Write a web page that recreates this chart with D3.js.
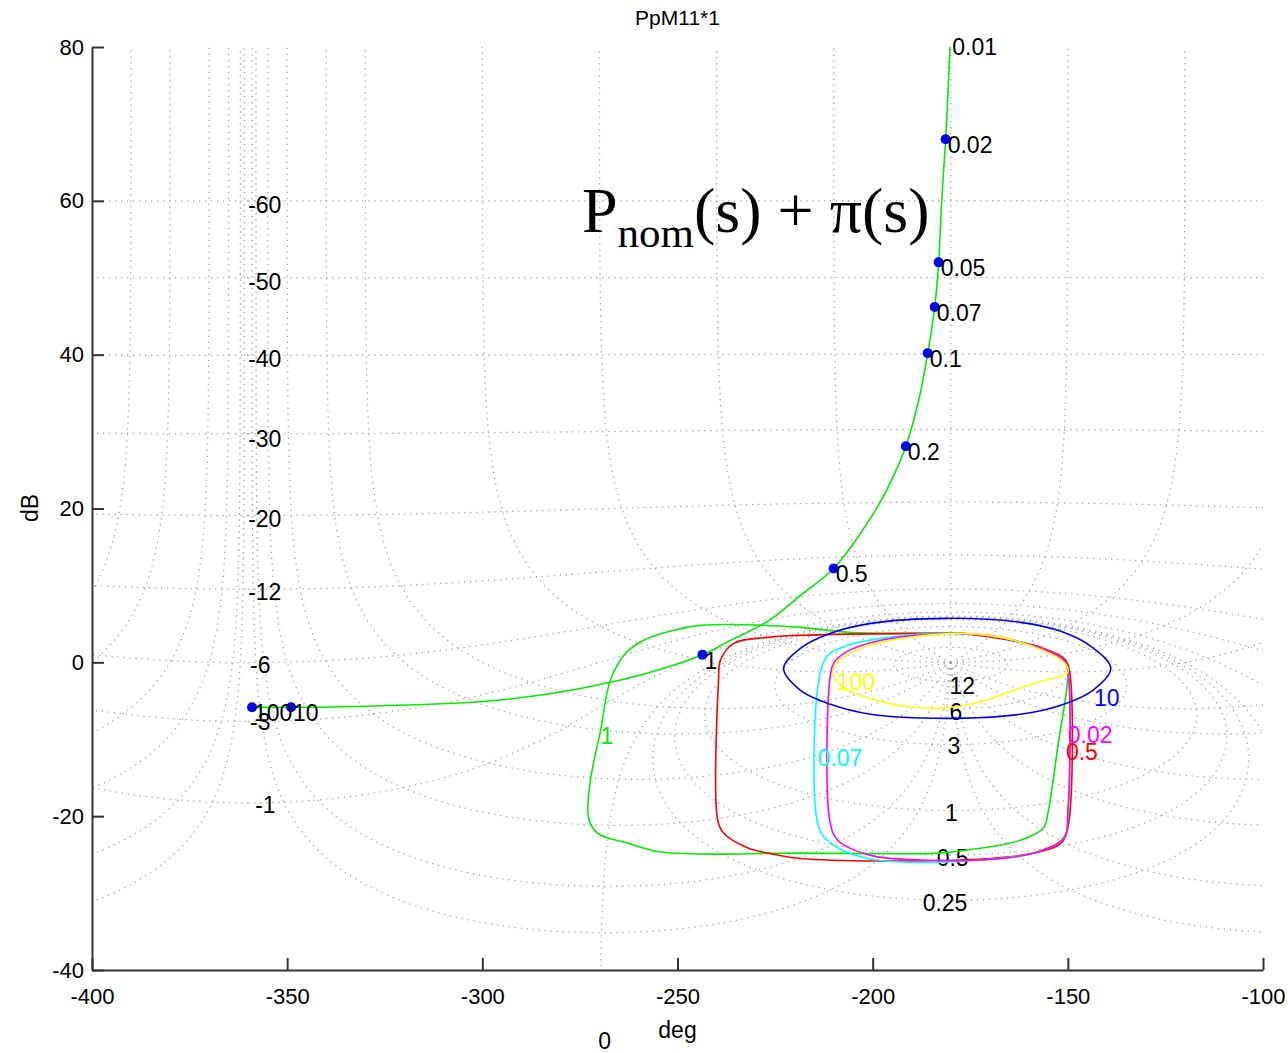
<!DOCTYPE html>
<html>
<head>
<meta charset="utf-8">
<script src="https://cdn.jsdelivr.net/npm/d3@7"></script>
<style>
  html, body { margin: 0; padding: 0; background: #fff; }
  svg { display: block; font-family: "Liberation Sans", Arial, sans-serif; }
</style>
</head>
<body>
<svg id="chart" width="1288" height="1053"></svg>
<script>
// ---- axes ----
const phaseDomain = [-400, -100];
const dbDomain = [-40, 80];
const phaseTicks = [-400, -350, -300, -250, -200, -150, -100];
const dbTicks = [-40, -20, 0, 20, 40, 60, 80];

// ---- Nichols grid contours ----
// closed-loop magnitude contours (dB) and closed-loop phase contours (deg)
const gridMagDb = [-60, -50, -40, -30, -20, -12, -6, -3, -1, 0, 0.25, 0.5, 1, 3, 6, 12];
const gridPhaseDeg = [-150, -120, -90, -60, -30, -20, -10, -5, -2, -1, 1, 2, 5, 10, 20, 30, 60, 90, 120, 150, 180];
// contour labels: text, phase of left edge, dB of vertical centre
const gridLabelText  = ["-60", "-50", "-40", "-30", "-20", "-12", "-6", "-3", "-1", "12", "6", "3", "1", "0.5", "0.25", "0"];
const gridLabelPhase = [-360, -360, -360, -360, -360, -360, -359.5, -359.5, -358.2, -180.3, -180.3, -180.8, -181.5, -183.6, -187.2, -270.3];
const gridLabelDb    = [59.4, 49.5, 39.5, 29.1, 18.6, 9.1, -0.4, -7.8, -18.6, -3.1, -6.5, -10.9, -19.6, -25.4, -31.3, -49.2];

// ---- nominal plant frequency response ----
const nominalPhase = [-180.1, -180.8, -181.3, -182.3, -183.1, -184.1, -185.9, -188.2, -191.5, -194.6, -198.2, -203.1, -210.0, -218.5, -225.4, -228.7, -236.4, -243.6, -267.2, -295.4, -330.5, -349.0, -359.0];
const nominalDb    = [81.0, 73.1, 68.0, 60.1, 52.0, 46.2, 40.2, 34.1, 28.1, 24.3, 20.7, 16.8, 12.2, 8.7, 5.85, 4.8, 2.86, 1.0, -2.6, -4.9, -5.7, -5.85, -5.85];
// marked frequencies (rad/s)
const freqLabels = ["0.01", "0.02", "0.05", "0.07", "0.1", "0.2", "0.5", "1", "10", "100"];
const freqPhase  = [-180.1, -181.3, -183.1, -184.1, -185.9, -191.5, -210.0, -243.6, -349.0, -359.0];
const freqDb     = [80.8, 68.0, 52.0, 46.2, 40.2, 28.1, 12.2, 1.0, -5.85, -5.85];

// ---- uncertainty templates: [phase deg, dB] ----
const templateW1 = [
  [-150.0, -1.04], [-151.0, 0.26], [-156.9, 1.82], [-162.0, 2.6], [-169.7, 3.38], [-177.4, 3.77],
  [-187.7, 3.77], [-206.4, 3.9], [-218.5, 4.55], [-244.1, 4.81], [-251.0, 4.16], [-258.7, 2.86],
  [-263.3, 1.17], [-267.2, -2.34], [-269.7, -8.84], [-272.3, -15.3], [-272.8, -20.2], [-270.5, -22.2],
  [-262.8, -23.5], [-253.6, -24.7], [-218.5, -24.8], [-183.3, -24.8], [-175.6, -24.4], [-162.0, -23.1],
  [-156.2, -21.5], [-155.1, -19.6], [-152.6, -11.05]
];
const templateW05 = [
  [-149.7, -0.78], [-151.0, 0.52], [-156.9, 1.95], [-162.0, 2.6], [-177.4, 3.77], [-187.7, 3.77],
  [-218.5, 3.51], [-226.9, 3.25], [-235.6, 2.47], [-239.0, 0.26], [-239.5, -2.34], [-239.7, -20.5],
  [-238.2, -22.2], [-232.1, -24.1], [-226.9, -24.8], [-218.5, -25.5], [-177.4, -25.7], [-158.7, -24.8],
  [-151.8, -23.5], [-150.0, -21.5]
];
const templateW007 = [
  [-150.0, -1.04], [-151.0, 0.26], [-163.8, 2.86], [-177.4, 3.77], [-197.9, 3.12], [-206.4, 2.21],
  [-211.5, 0.91], [-213.8, -2.34], [-213.8, -21.5], [-210.8, -23.5], [-202.3, -25.4], [-189.5, -26.0],
  [-172.3, -25.7], [-158.7, -24.8], [-151.0, -22.8], [-150.0, -19.6]
];
const templateW002 = [
  [-150.0, -1.04], [-151.0, 0.26], [-163.8, 2.86], [-177.4, 3.77], [-197.9, 2.86], [-206.9, 1.3],
  [-210.0, -0.13], [-211.0, -2.34], [-211.0, -20.5], [-209.0, -23.1], [-200.5, -25.1], [-187.7, -25.7],
  [-172.3, -25.7], [-158.7, -24.8], [-151.0, -22.8], [-150.0, -19.6]
];
const templateW100 = [
  [-150.0, -1.3], [-151.0, 0.0], [-163.8, 2.86], [-177.4, 3.77], [-197.9, 2.6], [-206.4, 1.04],
  [-210.0, -0.65], [-209.5, -2.34], [-206.4, -3.64], [-200.5, -4.68], [-193.6, -5.59], [-185.1, -5.98],
  [-177.4, -5.72], [-171.0, -4.94], [-163.8, -3.64], [-156.9, -2.47]
];
const templateW10 = [
  [-222.8, -0.78], [-218.5, 1.82], [-210.8, 3.77], [-200.5, 5.07], [-181.0, 5.72], [-162.1, 5.2],
  [-151.8, 4.03], [-144.1, 2.08], [-139.0, -0.78], [-143.6, -3.64], [-151.8, -5.59], [-162.1, -6.76],
  [-181.0, -7.28], [-200.5, -6.76], [-210.8, -5.46], [-218.5, -3.64]
];
const templateNames  = ["1", "0.5", "0.07", "0.02", "100", "10"];
const templateColors = ["#00ee00", "#ff0000", "#00ffff", "#ff00ff", "#ffff00", "#0000ff"];
const templateLabelPhase = [-269.7, -150.5, -214.1, -150.0, -209.2, -143.3];
const templateLabelDb    = [-9.6, -11.6, -12.5, -9.5, -2.6, -4.7];
const templateData = [templateW1, templateW05, templateW007, templateW002, templateW100, templateW10];

// ---- drawing ----
const svg = d3.select("#chart");
const plotL = 92, plotR = 1263, plotT = 47, plotB = 970;
const x = d3.scaleLinear().domain(phaseDomain).range([plotL, plotR]);
const y = d3.scaleLinear().domain(dbDomain).range([plotB, plotT]);

svg.append("defs").append("clipPath").attr("id", "plotClip")
  .append("rect").attr("x", plotL).attr("y", plotT)
  .attr("width", plotR - plotL).attr("height", plotB - plotT);

const line = d3.line().x(d => x(d[0])).y(d => y(d[1]));

// Nichols-plane point of complex L, with the phase kept continuous along a path
function toNichols(re, im, state) {
  let p = Math.atan2(im, re) * 180 / Math.PI;
  if (state.prev === null) {
    p = ((p % 360) + 360) % 360;
  } else {
    while (p - state.prev > 180) p -= 360;
    while (p - state.prev < -180) p += 360;
  }
  state.prev = p;
  const g = 20 * Math.log10(Math.hypot(re, im));
  return [p, Math.max(-200, Math.min(200, g))];
}

// constant |1/(1+L)| contour: circle of radius R about -1
function magnitudeContour(mdb) {
  const R = Math.pow(10, -mdb / 20);
  const N = 3000, pts = [], st = { prev: null };
  const unit = Math.abs(R - 1) < 1e-9;
  const i0 = unit ? 1 : 0, i1 = unit ? N - 1 : N;
  for (let i = i0; i <= i1; i++) {
    const th = 2 * Math.PI * i / N;
    pts.push(toNichols(-1 + R * Math.cos(th), R * Math.sin(th), st));
  }
  return pts;
}

// constant arg(1/(1+L)) contour: ray from -1
function phaseContour(psiDeg) {
  const psi = psiDeg * Math.PI / 180;
  const rs = [];
  for (let i = 0; i <= 3000; i++) rs.push(Math.pow(10, -4 + 9 * i / 3000));
  const c = Math.cos(psi);
  if (c > 0) for (let i = 0; i <= 2000; i++) rs.push(c * (0.6 + 0.8 * i / 2000));
  rs.sort((a, b) => a - b);
  const st = { prev: null };
  return rs.map(r => toNichols(-1 + r * Math.cos(psi), -r * Math.sin(psi), st));
}

const gridG = svg.append("g").attr("clip-path", "url(#plotClip)")
  .attr("fill", "none").attr("stroke", "#a3a3a3")
  .attr("stroke-width", 1.3).attr("stroke-dasharray", "1.3,4.7");

const gridPaths = [];
gridMagDb.forEach(m => gridPaths.push(magnitudeContour(m)));
gridPhaseDeg.forEach(p => gridPaths.push(phaseContour(p)));
gridPaths.forEach(pts => {
  [-360, -720].forEach(shift => {
    gridG.append("path").attr("d", line(pts.map(d => [d[0] + shift, d[1]])));
  });
});

// axes
const yAxis = d3.axisLeft(y).tickValues(dbTicks).tickFormat(d => String(d))
  .tickSizeInner(-12).tickSizeOuter(0).tickPadding(8);
const xAxis = d3.axisBottom(x).tickValues(phaseTicks).tickFormat(d => String(d))
  .tickSizeInner(-12).tickSizeOuter(0).tickPadding(18);
const yg = svg.append("g").attr("transform", `translate(${plotL},0)`).call(yAxis);
const xg = svg.append("g").attr("transform", `translate(0,${plotB})`).call(xAxis);
[yg, xg].forEach(g => {
  g.attr("font-family", "Liberation Sans, Arial, sans-serif");
  g.select(".domain").attr("stroke", "#333").attr("stroke-width", 2);
  g.selectAll(".tick line").attr("stroke", "#333").attr("stroke-width", 2);
  g.selectAll(".tick text").attr("font-size", 22).attr("fill", "#000");
});

// grid labels
svg.append("g").selectAll("text").data(gridLabelText).join("text")
  .attr("x", (d, i) => x(gridLabelPhase[i]))
  .attr("y", (d, i) => y(gridLabelDb[i]))
  .attr("dominant-baseline", "central")
  .attr("font-size", 23).attr("fill", "#000")
  .text(d => d);

// templates
const tplG = svg.append("g").attr("clip-path", "url(#plotClip)").attr("fill", "none").attr("stroke-width", 1.6);
const closedLine = d3.line().x(d => x(d[0])).y(d => y(d[1])).curve(d3.curveCatmullRomClosed.alpha(0.5));
templateData.forEach((pts, i) => {
  tplG.append("path").attr("d", closedLine(pts)).attr("stroke", templateColors[i]);
});
svg.append("g").selectAll("text").data(templateNames).join("text")
  .attr("x", (d, i) => x(templateLabelPhase[i]))
  .attr("y", (d, i) => y(templateLabelDb[i]))
  .attr("dominant-baseline", "central")
  .attr("font-size", 23)
  .attr("fill", (d, i) => templateColors[i])
  .text(d => d);

// nominal response
const nominal = nominalPhase.map((p, i) => [p, nominalDb[i]]);
const smoothLine = d3.line().x(d => x(d[0])).y(d => y(d[1])).curve(d3.curveCatmullRom.alpha(0.5));
svg.append("g").attr("clip-path", "url(#plotClip)")
  .append("path")
  .attr("d", smoothLine(nominal))
  .attr("fill", "none").attr("stroke", "#00ee00").attr("stroke-width", 1.6);

svg.append("g").attr("clip-path", "url(#plotClip)")
  .selectAll("circle").data(freqLabels).join("circle")
  .attr("cx", (d, i) => x(freqPhase[i]))
  .attr("cy", (d, i) => y(freqDb[i]))
  .attr("r", 5).attr("fill", "#0000ff");

svg.append("g").selectAll("text").data(freqLabels).join("text")
  .attr("x", (d, i) => x(freqPhase[i]) + 2)
  .attr("y", (d, i) => y(freqDb[i]) + 6)
  .attr("dominant-baseline", "central")
  .attr("font-size", 23).attr("fill", "#000")
  .text(d => d);

// titles
svg.append("text").attr("x", (plotL + plotR) / 2).attr("y", 17)
  .attr("text-anchor", "middle").attr("dominant-baseline", "central")
  .attr("font-size", 21).text("PpM11*1");
svg.append("text").attr("x", (plotL + plotR) / 2).attr("y", 1030)
  .attr("text-anchor", "middle").attr("dominant-baseline", "central")
  .attr("font-size", 23).text("deg");
svg.append("text").attr("transform", "translate(30,508) rotate(-90)")
  .attr("text-anchor", "middle").attr("dominant-baseline", "central")
  .attr("font-size", 23).text("dB");

// plant family annotation
const ann = svg.append("text").attr("x", 582).attr("y", 232)
  .attr("font-family", "Liberation Serif, Times New Roman, serif").attr("font-size", 64).attr("fill", "#000");
ann.append("tspan").text("P");
ann.append("tspan").attr("font-size", 43).attr("dy", 15).text("nom");
ann.append("tspan").attr("dy", -15).text("(s) + \u03c0(s)");
</script>
</body>
</html>
